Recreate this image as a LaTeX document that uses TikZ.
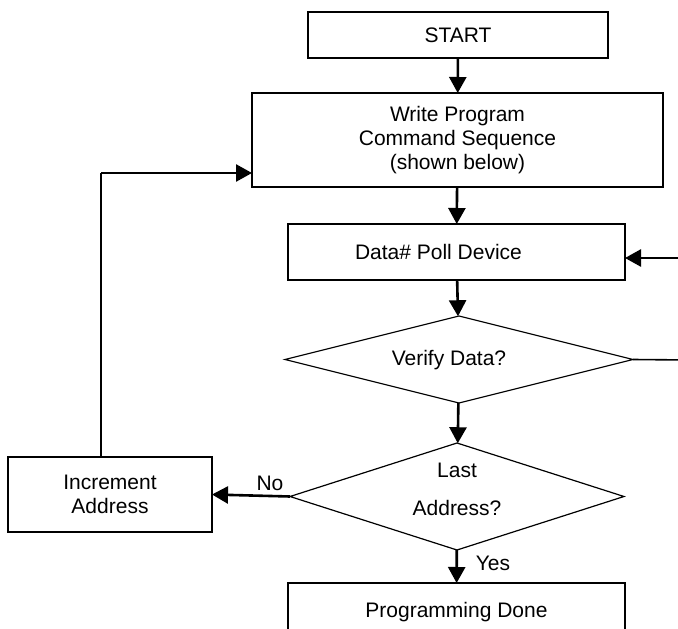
\documentclass[tikz,border=0pt]{standalone}
\usepackage{fontspec}
\setmainfont{Liberation Sans}
\usetikzlibrary{arrows.meta,shapes.geometric}

\begin{document}
\begin{tikzpicture}[x=1pt,y=1pt,
  box/.style={draw,line width=1.2pt,rectangle,align=center},
  test/.style={draw,line width=1.2pt,diamond},
  flow/.style={line width=2.6pt,-{Triangle[length=16pt,width=17pt]}},
  wire/.style={line width=1.6pt}]
\tikzstyle{every node}+=[inner sep=0pt,outer sep=0pt,font=\fontsize{21}{24}\selectfont]
\useasboundingbox (0,0) rectangle (678,-629);
\clip (0,0) rectangle (678,-629);
\node [box,minimum width=300,minimum height=46] (start) at (458,-35) {START};
\node [box,minimum width=411,minimum height=94] (write) at (457.5,-140) {Write Program\\Command Sequence\\(shown below)};
\node [box,minimum width=337,minimum height=56] (poll) at (456.5,-252) {\hspace*{-36pt}Data\# Poll Device};
\node [test,aspect=4,minimum width=348,minimum height=87] (verify) at (459,-359.5) {};
\node (verifytxt) at (449,-360) {Verify Data?};
\node [test,aspect=3.12,minimum width=334,minimum height=107] (last) at (457,-496.5) {};
\node [align=center] (lasttxt) at (457,-489) {Last\\[14pt]Address?};
\node [box,minimum width=204,minimum height=75] (inc) at (110,-494.5) {Increment\\Address};
\node [box,minimum width=337,minimum height=58] (done) at (456.5,-612) {Programming Done};
\node (no) at (270,-483) {No};
\node (yes) at (493,-563) {Yes};
\coordinate (loop) at (101,-173);
\coordinate (vout) at (690,-360);
\coordinate (vin) at (690,-258);
\draw [flow] (start) -- (write);
\draw [flow] (write) -- (poll);
\draw [flow] (poll) -- (verify);
\draw [flow] (verify) -- (last);
\draw [flow] (last) -- (done);
\draw [flow] (last.west) -- (inc.east);
\draw [wire] (inc.north -| loop) -- (loop);
\draw [flow] (loop) -- (write.west |- loop);
\draw [wire] (verify.east) -- (vout);
\draw [flow] (vin) -- (poll.east |- vin);
\end{tikzpicture}
\end{document}
